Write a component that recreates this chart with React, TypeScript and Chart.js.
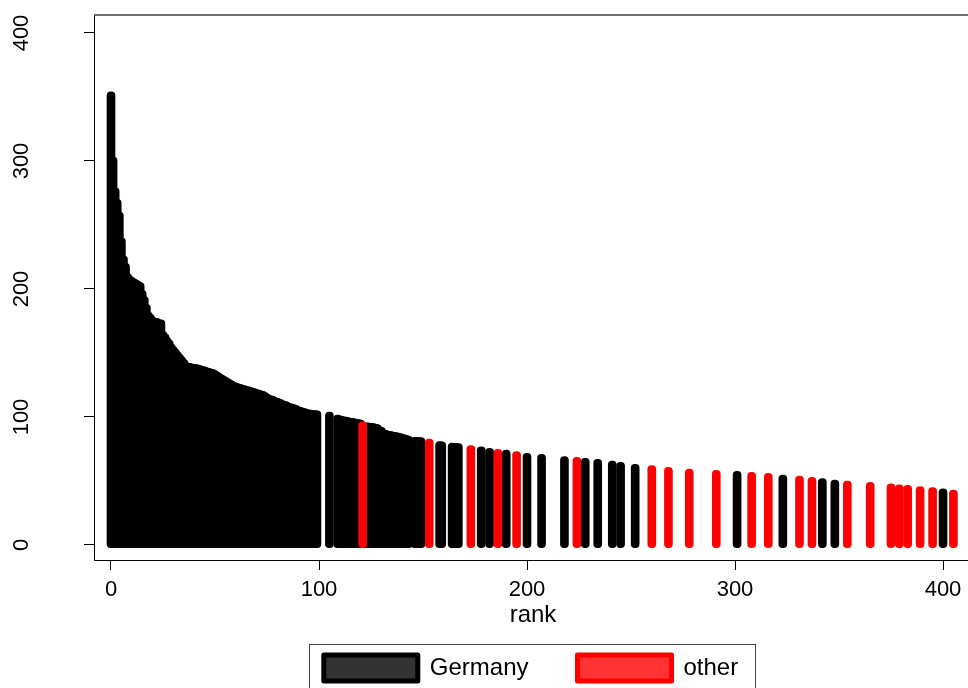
import React, { useEffect, useRef } from 'react';
import { Chart, registerables } from 'chart.js';

Chart.register(...registerables);

// ---- data ----
const germanyRanks = [
  0, 1, 2, 3, 4, 5, 6, 7, 8, 9, 10, 11, 12, 13, 14, 15, 16, 17, 18, 19,
  20, 21, 22, 23, 24, 25, 26, 27, 28, 29, 30, 31, 32, 33, 34, 35, 36, 37, 38, 39,
  40, 41, 42, 43, 44, 45, 46, 47, 48, 49, 50, 51, 52, 53, 54, 55, 56, 57, 58, 59,
  60, 61, 62, 63, 64, 65, 66, 67, 68, 69, 70, 71, 72, 73, 74, 75, 76, 77, 78, 79,
  80, 81, 82, 83, 84, 85, 86, 87, 88, 89, 90, 91, 92, 93, 94, 95, 96, 97, 98, 99,
  105,
  109, 110, 111, 112, 113, 114, 115, 116, 117, 118, 119, 120,
  123, 124, 125, 126, 127, 128, 129, 130, 131, 132, 133, 134, 135, 136, 137, 138, 139, 140, 141, 142, 143,
  146, 147, 148, 149,
  158, 159,
  164, 165, 166, 167,
  178, 182, 190, 200, 207, 218, 228, 234, 241, 245, 252, 301, 323, 342, 348, 400,
];
const germanyValues = [
  354, 303, 279, 270, 260, 240, 226, 220, 212, 210, 209, 208, 207, 206, 205, 199, 194, 188, 182, 180,
  178, 177, 177, 176, 176, 167, 165, 162, 160, 157, 155, 153, 151, 149, 147, 145, 143, 142, 142, 141,
  141, 141, 140.5, 140, 139.5, 139, 138.5, 138, 137.5, 137, 136, 135, 134, 133, 132, 131, 130, 129, 128, 127,
  126.5, 126, 125.5, 125, 124.5, 124, 123.5, 123, 122.5, 122, 121.5, 121, 120.5, 120, 119, 118, 117, 116.5, 116, 115,
  114.5, 114, 113, 112.5, 112, 111, 110.5, 110, 109.5, 109, 108, 107.5, 107, 106.5, 106, 105.5, 105.5, 105, 105, 104.8,
  103.9,
  101.5, 101, 100.5, 100, 100, 99.5, 99, 99, 98.5, 98, 98, 97.5,
  95.5, 95.3, 95, 94.8, 94.5, 94, 92.5, 92, 90, 89.5, 89, 88.8, 88.5, 88, 87.8, 87.5, 87, 86.5, 86, 85.5, 85,
  84.2, 84.1, 84, 83.9,
  80.8, 80.6,
  79.6, 79.4, 79.3, 79.2,
  76.6, 75.5, 74.2, 71.6, 70.8, 69, 67.7, 66.9, 65.6, 64.6, 63, 57.6, 54.7, 51.8, 50.8, 43.8,
];
const otherRanks = [121, 153, 173, 186, 195, 224, 260, 268, 278, 291, 308, 316, 331, 337, 354, 365, 375, 379, 383, 389, 395, 405];
const otherValues = [96.3, 82.8, 77.6, 74.7, 72.9, 68.5, 62, 60.7, 59.4, 58.3, 56.8, 56, 53.9, 52.9, 50, 49, 47.7, 47.1, 46.6, 45.6, 44.8, 43];

const xTicks = [0, 100, 200, 300, 400];
const yTicks = [0, 100, 200, 300, 400];
const seriesLabels = ['Germany', 'other'];
const xTitle = 'rank';

const FONT = "'Liberation Sans', Arial, Helvetica, sans-serif";

const framePlugin = {
  id: 'frame',
  afterDraw(chart: any) {
    const { ctx, chartArea: a } = chart;
    ctx.save();
    ctx.strokeStyle = '#444444';
    ctx.lineWidth = 1.5;
    ctx.beginPath();
    ctx.moveTo(a.left, a.top);
    ctx.lineTo(a.right + 20, a.top);
    ctx.stroke();
    const lg: any = chart.legend;
    const hb = lg && lg.legendHitBoxes;
    if (hb && hb.length) {
      const last = hb[hb.length - 1];
      const left = Math.round(hb[0].left - 14.5) + 0.5;
      const right = Math.round(last.left + last.width + 17) + 0.5;
      const top = Math.round(hb[0].top - 11.5) + 0.5;
      ctx.strokeStyle = '#444444';
      ctx.lineWidth = 1;
      ctx.strokeRect(left, top, right - left, 80);
    }
    ctx.restore();
  },
};

export default function App() {
  const ref = useRef<HTMLCanvasElement | null>(null);

  useEffect(() => {
    if (!ref.current) return;
    const chart = new Chart(ref.current, {
      type: 'bar',
      data: {
        datasets: [
          {
            label: seriesLabels[0],
            data: germanyRanks.map((r, i) => ({ x: r, y: germanyValues[i] })),
            backgroundColor: '#000000',
            borderWidth: 0,
            borderRadius: 4,
            borderSkipped: false,
            barThickness: 8,
            grouped: false,
            base: -2,
            order: 1,
          } as any,
          {
            label: seriesLabels[1],
            data: otherRanks.map((r, i) => ({ x: r, y: otherValues[i] })),
            backgroundColor: '#ff0000',
            borderWidth: 0,
            borderRadius: 4,
            borderSkipped: false,
            barThickness: 8,
            grouped: false,
            base: -2,
            order: 0,
          } as any,
        ],
      },
      options: {
        animation: false,
        responsive: false,
        devicePixelRatio: 1,
        layout: { padding: { top: 15, left: 0, right: 0, bottom: 0 } },
        plugins: {
          tooltip: { enabled: false },
          legend: {
            position: 'bottom',
            labels: {
              boxWidth: 94,
              boxHeight: 26,
              padding: 49,
              color: '#000000',
              font: { family: FONT, size: 24 },
              generateLabels: () => [
                { text: seriesLabels[0], fillStyle: '#333333', strokeStyle: '#000000', lineWidth: 5, lineJoin: 'round', hidden: false, datasetIndex: 0, fontColor: '#000000' } as any,
                { text: seriesLabels[1], fillStyle: '#ff3333', strokeStyle: '#ff0000', lineWidth: 5, lineJoin: 'round', hidden: false, datasetIndex: 1, fontColor: '#000000' } as any,
              ],
            },
          },
        },
        scales: {
          x: {
            type: 'linear',
            min: -8.173,
            max: 413.94,
            offset: false,
            afterBuildTicks: (s: any) => {
              s.ticks = xTicks.map((v) => ({ value: v }));
            },
            afterFit: (s: any) => {
              s.height = 46;
              s.paddingLeft = 0;
              s.paddingRight = 0;
            },
            grid: { display: true, drawOnChartArea: false, drawTicks: true, tickLength: 10, color: '#000000', lineWidth: 1, offset: false },
            border: { display: true, color: '#000000', width: 1 },
            ticks: {
              color: '#000000',
              font: { family: FONT, size: 22 },
              padding: 7,
              minRotation: 0,
              maxRotation: 0,
              autoSkip: false,
              callback: (v: any) => String(v),
            },
            title: {
              display: true,
              text: xTitle,
              color: '#000000',
              font: { family: FONT, size: 24 },
              padding: { top: 0, bottom: -24 },
            },
          } as any,
          y: {
            type: 'linear',
            position: 'left',
            min: -11.72,
            max: 414.06,
            afterBuildTicks: (s: any) => {
              s.ticks = yTicks.map((v) => ({ value: v }));
            },
            afterFit: (s: any) => {
              s.width = 94;
              s.paddingTop = 0;
              s.paddingBottom = 0;
            },
            grid: { display: true, drawOnChartArea: false, drawTicks: true, tickLength: 10, color: '#000000', lineWidth: 1 },
            border: { display: true, color: '#000000', width: 1 },
            ticks: {
              color: '#000000',
              font: { family: FONT, size: 22 },
              minRotation: 90,
              maxRotation: 90,
              crossAlign: 'center',
              padding: 44,
              autoSkip: false,
              callback: (v: any) => String(v),
            },
          } as any,
          yRight: {
            type: 'linear',
            position: 'right',
            display: true,
            grid: { display: false, drawTicks: false, drawOnChartArea: false, color: 'rgba(0,0,0,0)' },
            border: { display: false, color: 'rgba(0,0,0,0)', width: 0 },
            ticks: { display: false },
            afterFit: (s: any) => {
              s.width = 90;
              s.paddingTop = 0;
              s.paddingBottom = 0;
            },
          } as any,
        },
      },
      plugins: [framePlugin],
    });
    return () => chart.destroy();
  }, []);

  return (
    <div style={{ position: 'fixed', left: 0, top: 0, width: 968, height: 688, overflow: 'hidden', background: '#ffffff' }}>
      <canvas ref={ref} width={1062} height={691} style={{ position: 'absolute', left: 0, top: 0, width: 1062, height: 691, display: 'block' }} />
    </div>
  );
}
